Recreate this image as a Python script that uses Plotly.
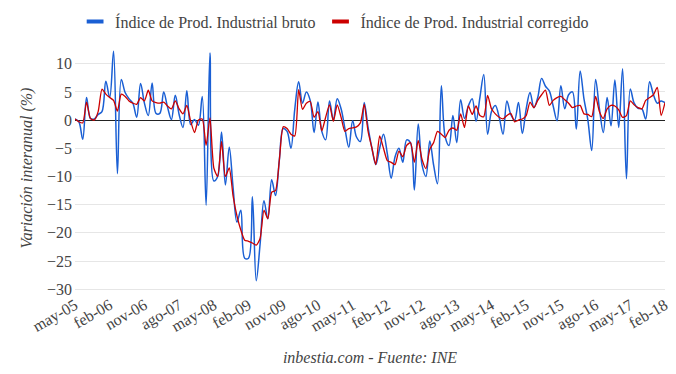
import plotly.graph_objects as go

# ---- data ----
start_year = 2005
start_month = 5  # May
month_abbr = ["ene", "feb", "mar", "abr", "may", "jun", "jul", "ago", "sep", "oct", "nov", "dic"]

bruto = [
    0.2, -0.3, -3.4, 4.0, 0.3, 0.2, 1.0, 1.5, 6.9, 4.0,
    12.2, -9.5, 7.2, 4.9, 3.8, 3.0, 0.5, 6.5, 3.0, 0.8,
    6.6, 1.2, 1.2, 5.0, 2.3, 0.1, 4.4, 1.0, -1.3, 5.2,
    -0.8, 0.1, -0.9, 4.2, -15.1, 11.9, -10.8, -10.0, -2.1, -11.5,
    -4.8, -12.0, -18.1, -16.0, -24.5, -24.5, -13.6, -28.5, -22.0, -14.3,
    -17.5, -10.6, -13.4, -7.0, -1.5, -2.0, -5.0, 2.0, 6.8, 3.0,
    5.0, 3.5, -2.2, 3.2, -2.0, -3.5, 3.4, 0.0, 3.8, 2.0,
    -1.5, -4.8, -0.1, -3.0, -3.8, 3.1, -1.3, -5.0, -7.9, -5.0,
    -2.5, -6.0, -10.3, -6.5, -5.0, -7.5, -3.5, -4.0, -12.4, -0.7,
    -8.0, -10.0, -3.7, -8.0, -11.3, 6.1, -3.0, -4.5, 0.8, -4.0,
    3.6, 0.3, 2.5, 3.8, -0.2, 4.0, 8.1, -2.5, 1.5, 2.6,
    0.5, -2.5, 3.4, 1.0, 0.0, 3.1, -2.4, 2.0, 4.9, 2.2,
    4.0, 7.4, 6.0, 5.2, 2.5, -0.1, 6.1, 2.0, 4.5, 5.0,
    -1.6, 8.7, 3.7, 0.0, -5.4, 7.2, 2.0, -2.2, 4.0, -1.0,
    7.1, -1.3, 9.1, -10.4, 5.5, 3.0, 2.1, 2.0, 0.2, 6.8,
    4.5, 3.0, 3.4, 3.1,
]

corregido = [
    0.2, -0.3, -0.5, 3.2, 0.3, 0.0, 1.5, 5.5, 4.6, 4.0,
    3.5, 1.6, 4.6, 4.2, 3.4, 3.0, 2.8, 4.0, 3.4, 5.3,
    3.4, 3.1, 3.0, 3.2, 2.5, 2.0, 3.4, 2.0, 1.1, 2.6,
    -0.2, -2.2, 0.0, 0.2, -4.5, 0.4, -8.5, -10.0, -3.8, -10.0,
    -8.5, -13.5, -17.0, -19.5, -21.3, -21.5, -21.8, -22.2, -21.0, -16.0,
    -17.5, -12.8, -12.5, -7.0, -1.2, -1.5, -2.5, -2.8, 5.4, 1.9,
    3.0, 3.3, 0.5, 1.5, -1.9, 0.5, 2.7, -0.2, 2.7, 0.5,
    -2.0, -1.5, -1.4, -1.2, -0.5, 2.8, -2.0, -5.0, -7.9, -2.8,
    -5.0, -7.2, -7.5, -7.9, -5.5, -6.5, -4.5, -4.0, -7.5, -3.6,
    -7.0, -8.6, -5.2, -4.0, -2.0, -2.5, -3.1, -1.8, -1.4, -1.8,
    1.1, -1.3, 2.5, 1.0, 2.5, 0.8, 0.6, 4.4, 2.0, 1.1,
    0.5, 0.2, 0.8, 1.2, -0.3, 0.0, 0.2, 0.8, 3.2, 2.2,
    3.5, 4.5, 5.3, 2.6, 3.5, 4.0, 4.2, 3.6, 3.0, 2.2,
    2.5, 2.6, 1.1, 1.0, 0.6, 4.2, 1.5, 0.3, 2.0, 2.6,
    2.5, 1.8, 0.5, 0.8, 3.4, 2.7, 2.2, 2.0, 3.5, 4.0,
    4.5, 5.8, 0.8, 3.1,
]

n = len(bruto)
months = []
for k in range(n):
    m = (start_month - 1 + k) % 12
    y = start_year + (start_month - 1 + k) // 12
    months.append(f"{month_abbr[m]}-{y % 100:02d}")

tick_step = 9
tick_labels = months[::tick_step]

series_names = ["Índice de Prod. Industrial bruto", "Índice de Prod. Industrial corregido"]
series_colors = ["#1a5fd4", "#cc0000"]

FONT = "Liberation Serif"

fig = go.Figure()
fig.add_trace(go.Scatter(
    x=months, y=bruto, mode="lines", name=series_names[0], showlegend=False,
    line=dict(color=series_colors[0], width=1.5, shape="spline", smoothing=1.0),
))
fig.add_trace(go.Scatter(
    x=months, y=corregido, mode="lines", name=series_names[1], showlegend=False,
    line=dict(color=series_colors[1], width=1.3, shape="spline", smoothing=0.6),
))
# legend entries with short thick bar symbols
for name, col in zip(series_names, series_colors):
    fig.add_trace(go.Scatter(
        x=[None], y=[None], mode="markers", name=name, showlegend=True,
        marker=dict(symbol="line-ew-open", size=12, color=col, line=dict(color=col, width=4)),
    ))

fig.update_layout(
    width=676, height=374,
    margin=dict(l=75, r=11, t=44, b=82, autoexpand=False),
    paper_bgcolor="white", plot_bgcolor="white",
    font=dict(family=FONT, size=16, color="#444"),
    showlegend=True,
    legend=dict(orientation="h", x=0.44, xanchor="center", y=1.09, yanchor="middle",
                font=dict(family=FONT, size=16, color="#444"),
                itemwidth=30, traceorder="normal"),
    xaxis=dict(
        type="category", categoryorder="array", categoryarray=months,
        range=[0, n - 1],
        tickmode="array", tickvals=tick_labels, ticktext=tick_labels,
        tickangle=-30, showgrid=False, showline=False, ticks="",
        tickfont=dict(family=FONT, size=16, color="#444"),
        title=dict(text="<i>inbestia.com - Fuente: INE</i>",
                   font=dict(family=FONT, size=16, color="#444"), standoff=16),
    ),
    yaxis=dict(
        range=[-30.5, 13.5],
        tickmode="array", tickvals=[-30, -25, -20, -15, -10, -5, 0, 5, 10],
        showgrid=True, gridcolor="#e6e6e6", gridwidth=1,
        zeroline=True, zerolinecolor="#222", zerolinewidth=1,
        ticks="", ticklabelstandoff=2, tickfont=dict(family=FONT, size=16, color="#444"),
        title=dict(text="<i>Variación interanual (%)</i>",
                   font=dict(family=FONT, size=16, color="#444"), standoff=10),
    ),
)

fig.write_html("out.html", config={"displayModeBar": False},
               post_script="document.body.style.margin='0px';")
